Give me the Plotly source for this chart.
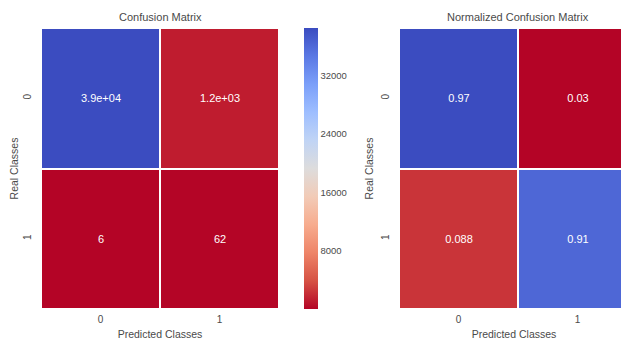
import plotly.graph_objects as go

classes = ["0", "1"]
counts = [[38550, 1200], [6, 62]]
cbar_ticks = [8000, 16000, 24000, 32000]
titles = ["Confusion Matrix", "Normalized Confusion Matrix"]

norm = [[v / sum(row) for v in row] for row in counts]
count_text = [[format(v, ".2g") for v in row] for row in counts]
norm_text = [[format(v, ".2g") for v in row] for row in norm]

coolwarm_r = [
    [0.0, "#b40426"], [0.1, "#d65244"], [0.2, "#ee8468"], [0.3, "#f7ac8e"],
    [0.4, "#f2cbb7"], [0.5, "#dddcdc"], [0.6, "#c0d4f5"], [0.7, "#9ebeff"],
    [0.8, "#7b9ff9"], [0.9, "#5a78e4"], [1.0, "#3b4cc0"],
]

OFF = 8  # default page body margin
W, H = 629 - OFF, 343 - OFF
L, R, T, B = 41 - OFF, 0, 28 - OFF, 34
pw = W - L - R
ph = H - T - B
cell_w = 238

def px(x):
    # x given in page pixels
    return (x - OFF - L) / pw

FONT = "Liberation Sans, Arial, sans-serif"
GRAY = "#4a4a4a"

fig = go.Figure()
allv = [v for row in counts for v in row]
fig.add_trace(go.Heatmap(
    z=counts, x=classes, y=classes, text=count_text, texttemplate="%{text}",
    textfont=dict(color="white", size=11, family=FONT),
    colorscale=coolwarm_r, zmin=min(allv), zmax=max(allv),
    xgap=2, ygap=2, xaxis="x", yaxis="y", hoverinfo="skip",
    colorbar=dict(x=px(294), xanchor="left", y=0.5, len=1.0, lenmode="fraction",
                  thickness=14, outlinewidth=0, tickvals=cbar_ticks, tickformat="d",
                  tickfont=dict(size=9.5, color=GRAY, family=FONT), ticks="",
                  ypad=0),
))
alln = [v for row in norm for v in row]
fig.add_trace(go.Heatmap(
    z=norm, x=classes, y=classes, text=norm_text, texttemplate="%{text}",
    textfont=dict(color="white", size=11, family=FONT),
    colorscale=coolwarm_r, zmin=min(alln), zmax=max(alln),
    xgap=2, ygap=2, xaxis="x2", yaxis="y2", showscale=False, hoverinfo="skip",
))

left_dom = [0, cell_w / pw]
right_dom = [px(399), 1.0]
right_width = pw - (399 - OFF - L)
xr_end = -0.5 + 2 * right_width / cell_w

axis_common = dict(showgrid=False, zeroline=False, showline=False, ticks="",
                   tickfont=dict(size=10, color=GRAY, family=FONT))
xt = dict(text="Predicted Classes", font=dict(size=10.5, color=GRAY), standoff=6)
yt = dict(text="Real Classes", font=dict(size=10.5, color=GRAY), standoff=4)
fig.update_layout(
    width=W, height=H, margin=dict(l=L, r=R, t=T, b=B),
    paper_bgcolor="white", plot_bgcolor="white", font=dict(family=FONT, color=GRAY),
    xaxis=dict(domain=left_dom, range=[-0.5, 1.5], type="category",
               title=xt, ticklabelstandoff=3, **axis_common),
    yaxis=dict(domain=[0, 1], range=[1.5, -0.5], type="category", tickangle=-90,
               title=yt, ticklabelstandoff=7, **axis_common),
    xaxis2=dict(domain=right_dom, range=[-0.5, xr_end], type="category", anchor="y2",
                title=xt, ticklabelstandoff=3, **axis_common),
    yaxis2=dict(domain=[0, 1], range=[1.5, -0.5], type="category", tickangle=-90, anchor="x2",
                title=yt, ticklabelstandoff=7, **axis_common),
)

for cx, t in [(41 + cell_w / 2, titles[0]), (399 + cell_w / 2, titles[1])]:
    fig.add_annotation(x=px(cx), y=1.0, xref="paper", yref="paper", text=t,
                       showarrow=False, xanchor="center", yanchor="bottom", yshift=3,
                       font=dict(size=11, color=GRAY, family=FONT))

fig.write_html("out.html")
